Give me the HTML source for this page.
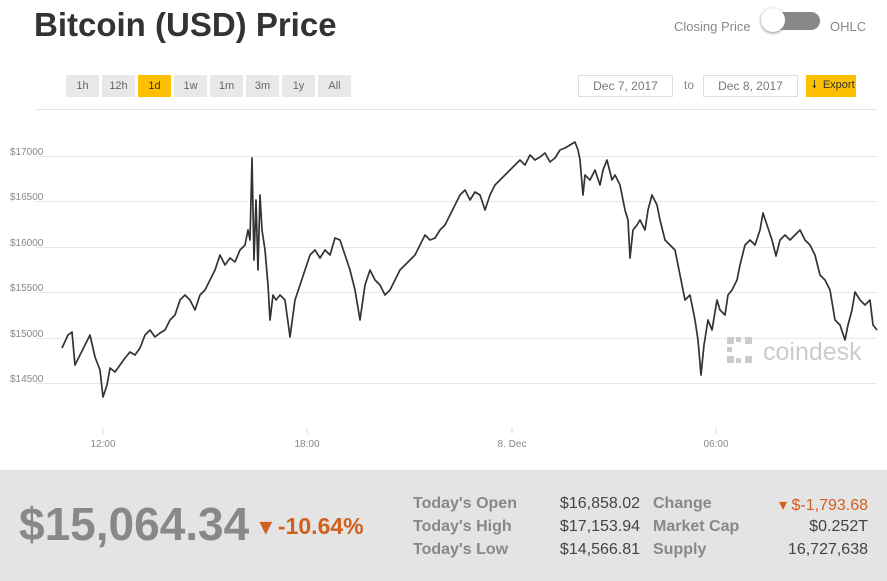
<!DOCTYPE html><html><head><style>
body{margin:0;width:887px;height:581px;background:#fff;font-family:"Liberation Sans",sans-serif;position:relative;overflow:hidden}
.a{position:absolute}
.btn{position:absolute;top:75px;height:22px;width:33px;background:#e8e8e8;font-size:11px;color:#666;text-align:center;line-height:22px}
.box{position:absolute;top:75px;height:20px;border:1px solid #ddd;font-size:12px;color:#777;text-align:center;line-height:20px}
.l{position:absolute;font-size:16px;font-weight:bold;color:#888}
.v{position:absolute;font-size:16px;color:#444;text-align:right}
</style></head><body>
<div class="a" style="left:34px;top:6px;font-size:33px;font-weight:bold;color:#333">Bitcoin (USD) Price</div>
<div class="a" style="left:674px;top:19px;font-size:13px;color:#888">Closing Price</div>
<div class="a" style="left:763px;top:12px;width:57px;height:18px;background:#888;border-radius:10px"></div>
<div class="a" style="left:761px;top:8px;width:24px;height:24px;background:#fff;border-radius:50%;box-shadow:0 1px 3px #888"></div>
<div class="a" style="left:830px;top:19px;font-size:13px;color:#888">OHLC</div>
<div class="btn" style="left:66px">1h</div><div class="btn" style="left:102px">12h</div><div class="btn" style="left:138px;background:#fdc002;color:#333">1d</div><div class="btn" style="left:174px">1w</div><div class="btn" style="left:210px">1m</div><div class="btn" style="left:246px">3m</div><div class="btn" style="left:282px">1y</div><div class="btn" style="left:318px">All</div>
<div class="box" style="left:578px;width:93px">Dec 7, 2017</div>
<div class="a" style="left:684px;top:78px;font-size:12px;color:#888">to</div>
<div class="box" style="left:703px;width:93px">Dec 8, 2017</div>
<div class="a" style="left:806px;top:75px;width:44px;height:22px;background:#fdc002;font-size:11px;color:#333;line-height:20px;padding-left:6px">🠗&nbsp;&nbsp;Export</div>
<svg class="a" style="left:0;top:0" width="887" height="470">
<line x1="36" y1="109.5" x2="877" y2="109.5" stroke="#e3e3e3"/>
<g stroke="#e8e8e8"><line x1="36" y1="156.5" x2="877" y2="156.5"/><line x1="36" y1="201.5" x2="877" y2="201.5"/><line x1="36" y1="247.5" x2="877" y2="247.5"/><line x1="36" y1="292.5" x2="877" y2="292.5"/><line x1="36" y1="338.5" x2="877" y2="338.5"/><line x1="36" y1="383.5" x2="877" y2="383.5"/></g>
<g stroke="#ddd"><line x1="103" y1="428" x2="103" y2="434"/><line x1="307" y1="428" x2="307" y2="434"/><line x1="512" y1="428" x2="512" y2="434"/><line x1="716" y1="428" x2="716" y2="434"/></g>
<g font-size="10" fill="#888"><text x="10" y="155">$17000</text><text x="10" y="200">$16500</text><text x="10" y="246">$16000</text><text x="10" y="291">$15500</text><text x="10" y="337">$15000</text><text x="10" y="382">$14500</text>
<text x="103" y="447" text-anchor="middle">12:00</text><text x="307" y="447" text-anchor="middle">18:00</text><text x="512" y="447" text-anchor="middle">8. Dec</text><text x="716" y="447" text-anchor="middle">06:00</text></g>
<g fill="#ccc"><rect x="727" y="337" width="7" height="7"/><rect x="736" y="337" width="5" height="5"/><rect x="745" y="337" width="7" height="7"/><rect x="727" y="347" width="5" height="5"/><rect x="727" y="356" width="7" height="7"/><rect x="736" y="358" width="5" height="5"/><rect x="745" y="356" width="7" height="7"/></g>
<text x="763" y="360" font-size="25" fill="#ccc">coindesk</text>
<polyline fill="none" stroke="#333" stroke-width="1.7" stroke-linejoin="round" points="62,348 68,335 72,332 75,365 80,355 85,345 90,335 95,357 100,370 103,397 107,385 110,368 115,372 120,365 125,358 130,352 135,355 140,348 145,335 150,330 155,337 160,333 165,330 170,320 175,315 180,300 185,295 190,300 195,310 200,295 205,290 210,280 215,270 220,255 225,265 230,258 235,262 240,250 245,245 248,230 250,240 252,158 254,260 256,200 258,270 260,195 262,230 265,250 268,285 270,320 273,295 276,300 280,295 285,300 290,337 295,300 300,285 305,270 310,255 315,250 320,258 325,250 330,255 335,238 340,240 345,255 350,270 355,290 360,320 365,285 370,270 375,280 380,285 385,295 390,290 395,280 400,270 405,265 410,260 415,255 420,245 425,235 430,240 435,238 440,230 445,225 450,215 455,205 460,195 465,190 470,200 475,192 480,195 485,210 490,195 495,185 500,180 505,175 510,170 515,165 520,160 525,165 530,155 535,160 540,157 545,153 550,162 555,158 560,150 565,148 570,145 575,142 578,150 580,160 583,195 585,175 590,180 595,170 600,185 603,170 607,160 612,180 615,175 620,185 625,210 628,220 630,258 633,230 637,225 640,220 645,230 648,210 652,195 657,205 660,220 665,240 670,245 675,250 680,275 685,300 690,295 695,320 698,340 701,375 704,345 708,320 712,330 717,300 720,310 725,315 728,295 732,290 737,280 740,265 745,245 750,240 755,245 760,230 763,213 767,225 772,240 776,256 780,240 785,235 790,240 795,235 800,230 805,240 810,245 815,255 820,275 825,280 830,290 835,320 840,325 845,340 848,325 852,310 855,292 860,300 865,305 870,300 873,325 877,330"/>
</svg>
<div class="a" style="left:0;top:470px;width:887px;height:111px;background:#e4e4e4"></div>
<div class="a" style="left:19px;top:497px;font-size:46px;font-weight:bold;color:#888;letter-spacing:0">$15,064.34</div>
<div class="a" style="left:260px;top:513px;font-size:23px;font-weight:bold;color:#d0601d">▾ -10.64%</div>
<div class="l" style="left:413px;top:495px">Today's Open</div><div class="l" style="left:413px;top:518px">Today's High</div><div class="l" style="left:413px;top:541px">Today's Low</div>
<div class="v" style="left:520px;width:120px;top:495px">$16,858.02</div><div class="v" style="left:520px;width:120px;top:518px">$17,153.94</div><div class="v" style="left:520px;width:120px;top:541px">$14,566.81</div>
<div class="l" style="left:653px;top:495px">Change</div><div class="l" style="left:653px;top:518px">Market Cap</div><div class="l" style="left:653px;top:541px">Supply</div>
<div class="v" style="left:740px;width:128px;top:495px;color:#d0601d">▾ $-1,793.68</div><div class="v" style="left:740px;width:128px;top:518px">$0.252T</div><div class="v" style="left:740px;width:128px;top:541px">16,727,638</div>
</body></html>
